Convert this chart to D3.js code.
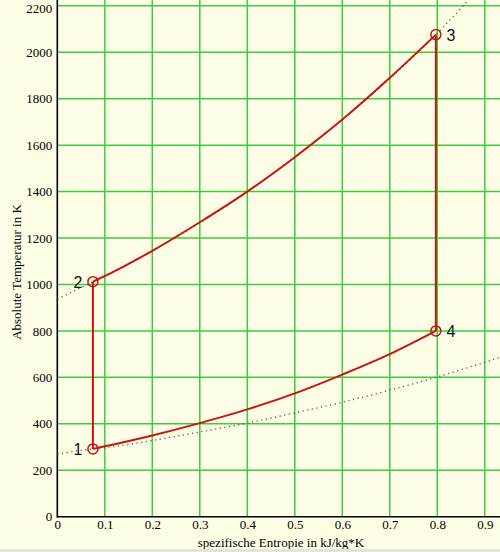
<!DOCTYPE html>
<html><head><meta charset="utf-8">
<script src="https://cdn.jsdelivr.net/npm/d3@7"></script>
<style>html,body{margin:0;padding:0;background:#fefee6;}svg{display:block;}</style>
</head><body>
<script>
// ---- data ----
const xTicks = [0,0.1,0.2,0.3,0.4,0.5,0.6,0.7,0.8,0.9];
const yTicks = [0,200,400,600,800,1000,1200,1400,1600,1800,2000,2200];
const cyclePoints = [
  {id:"1", s:0.075, T:292},
  {id:"2", s:0.075, T:1012},
  {id:"3", s:0.797, T:2076},
  {id:"4", s:0.797, T:800}
];
// upper red curve 2 -> 3
const upperS = [0.075,0.1,0.2,0.3,0.4,0.5,0.6,0.7,0.797];
const upperT = [1012,1036,1145,1268,1400,1548,1710,1890,2076];
// lower red curve 1 -> 4
const lowerS = [0.075,0.1,0.2,0.3,0.4,0.5,0.6,0.7,0.797];
const lowerT = [292,303,350,403,462,531,612,700,800];
// dotted upper isoline (through 2 and 3)
const dotUpS = [0,0.075,0.2,0.4,0.6,0.797,0.85,0.88];
const dotUpT = [937,1012,1145,1400,1710,2076,2190,2260];
// dotted lower isoline (through 1)
const dotLoS = [0,0.075,0.1,0.2,0.3,0.4,0.5,0.6,0.7,0.8,0.9,0.935];
const dotLoT = [270,292,297,328,365,403,447,493,545,602,665,688];

const W=500,H=552;
const x0=57.3, y0=516.7;
const x = d3.scaleLinear().domain([0,0.932]).range([x0,500]);
const y = d3.scaleLinear().domain([0,2225]).range([y0,0]);

const svg = d3.select("body").append("svg").attr("width",W).attr("height",H);
svg.append("rect").attr("width",W).attr("height",H).attr("fill","#fefee6");
svg.append("defs").append("clipPath").attr("id","clip")
  .append("rect").attr("x",x0).attr("y",0).attr("width",W-x0).attr("height",y0);

// grid
const grid = svg.append("g");
grid.selectAll("line.v").data(xTicks.filter(d=>d>0)).join("line")
  .attr("x1",d=>x(d)).attr("x2",d=>x(d)).attr("y1",0).attr("y2",y0)
  .attr("stroke","#3ccc3c").attr("stroke-width",1.5);
grid.selectAll("line.h").data(yTicks.filter(d=>d>0)).join("line")
  .attr("x1",x0).attr("x2",W).attr("y1",d=>y(d)).attr("y2",d=>y(d))
  .attr("stroke","#3ccc3c").attr("stroke-width",1.5);

// axes (no tick marks)
const xAxis = d3.axisBottom(x).tickValues(xTicks).tickSize(0).tickPadding(3).tickFormat(d=>d===0?"0":d3.format(".1f")(d));
const gx = svg.append("g").attr("transform",`translate(0,${y0})`).call(xAxis);
gx.select(".domain").remove();
gx.selectAll("text").attr("font-family","'Liberation Serif','Times New Roman',serif").attr("font-size",13).attr("fill","#000");
const yAxis = d3.axisLeft(y).tickValues(yTicks).tickSize(0).tickPadding(5).tickFormat(d3.format("d"));
const gy = svg.append("g").attr("transform",`translate(${x0},0)`).call(yAxis);
gy.select(".domain").remove();
gy.selectAll("text").attr("font-family","'Liberation Serif','Times New Roman',serif").attr("font-size",13).attr("fill","#000");
gy.selectAll(".tick").filter(d=>d===2200).select("text").attr("dy","0.5em");

svg.append("line").attr("x1",x0).attr("x2",x0).attr("y1",0).attr("y2",y0+1).attr("stroke","#000").attr("stroke-width",1.6);
svg.append("line").attr("x1",x0).attr("x2",W).attr("y1",y0).attr("y2",y0).attr("stroke","#000").attr("stroke-width",1.6);

const line = d3.line().x(d=>x(d[0])).y(d=>y(d[1])).curve(d3.curveMonotoneX);
const plot = svg.append("g").attr("clip-path","url(#clip)");
plot.append("path").attr("d",line(dotUpS.map((s,i)=>[s,dotUpT[i]])))
  .attr("fill","none").attr("stroke","#555").attr("stroke-width",1.3).attr("stroke-dasharray","1.2,3.5");
plot.append("path").attr("d",line(dotLoS.map((s,i)=>[s,dotLoT[i]])))
  .attr("fill","none").attr("stroke","#555").attr("stroke-width",1.3).attr("stroke-dasharray","1.2,3.5");

const red="#c81414";
plot.append("path").attr("d",line(upperS.map((s,i)=>[s,upperT[i]])))
  .attr("fill","none").attr("stroke",red).attr("stroke-width",2);
plot.append("path").attr("d",line(lowerS.map((s,i)=>[s,lowerT[i]])))
  .attr("fill","none").attr("stroke",red).attr("stroke-width",2);
const p = Object.fromEntries(cyclePoints.map(d=>[d.id,d]));
[[p["1"],p["2"]],[p["3"],p["4"]]].forEach(([a,b])=>{
  plot.append("line").attr("x1",x(a.s)).attr("x2",x(b.s)).attr("y1",y(a.T)).attr("y2",y(b.T))
    .attr("stroke",red).attr("stroke-width",2);
});
svg.selectAll("circle.pt").data(cyclePoints).join("circle")
  .attr("cx",d=>x(d.s)).attr("cy",d=>y(d.T)).attr("r",5)
  .attr("fill","none").attr("stroke",red).attr("stroke-width",1.5);

const lblOff = {"1":[-15,6],"2":[-15,6],"3":[15,6],"4":[15,6]};
svg.selectAll("text.pl").data(cyclePoints).join("text")
  .attr("x",d=>x(d.s)+lblOff[d.id][0]).attr("y",d=>y(d.T)+lblOff[d.id][1])
  .attr("text-anchor","middle").attr("font-family","'Liberation Sans',Arial,sans-serif")
  .attr("font-size",16).attr("fill","#111").text(d=>d.id);

svg.append("text").attr("x",281).attr("y",547).attr("text-anchor","middle")
  .attr("font-family","'Liberation Serif','Times New Roman',serif").attr("font-size",13)
  .text("spezifische Entropie in kJ/kg*K");
svg.append("text").attr("transform","translate(21,272) rotate(-90)").attr("text-anchor","middle")
  .attr("font-family","'Liberation Serif','Times New Roman',serif").attr("font-size",13)
  .text("Absolute Temperatur in K");
svg.append("rect").attr("x",0).attr("y",549).attr("width",W).attr("height",3).attr("fill","#e4e4dc");
</script>
</body></html>
